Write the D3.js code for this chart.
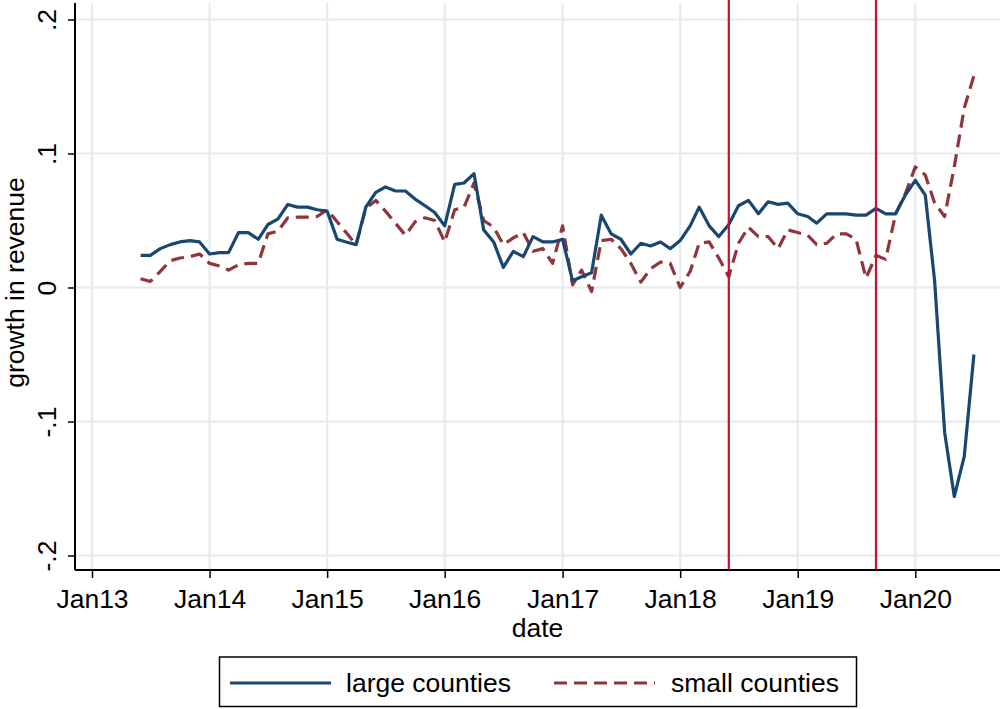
<!DOCTYPE html>
<html>
<head>
<meta charset="utf-8">
<script src="https://cdn.jsdelivr.net/npm/d3@7"></script>
<style>
  html, body { margin: 0; padding: 0; background: #fff; }
  svg { display: block; }
  text { font-family: "Liberation Sans", Arial, sans-serif; fill: #000; }
</style>
</head>
<body>
<svg id="chart" width="1002" height="709"></svg>
<script>
// Monthly observations, June 2013 – July 2020
const months = [
  "2013-06","2013-07","2013-08","2013-09","2013-10","2013-11","2013-12",
  "2014-01","2014-02","2014-03","2014-04","2014-05","2014-06","2014-07","2014-08","2014-09","2014-10","2014-11","2014-12",
  "2015-01","2015-02","2015-03","2015-04","2015-05","2015-06","2015-07","2015-08","2015-09","2015-10","2015-11","2015-12",
  "2016-01","2016-02","2016-03","2016-04","2016-05","2016-06","2016-07","2016-08","2016-09","2016-10","2016-11","2016-12",
  "2017-01","2017-02","2017-03","2017-04","2017-05","2017-06","2017-07","2017-08","2017-09","2017-10","2017-11","2017-12",
  "2018-01","2018-02","2018-03","2018-04","2018-05","2018-06","2018-07","2018-08","2018-09","2018-10","2018-11","2018-12",
  "2019-01","2019-02","2019-03","2019-04","2019-05","2019-06","2019-07","2019-08","2019-09","2019-10","2019-11","2019-12",
  "2020-01","2020-02","2020-03","2020-04","2020-05","2020-06","2020-07"
];

// Growth in revenue, large counties
const largeCounties = [
  0.024, 0.024, 0.029, 0.032, 0.034, 0.035, 0.034,
  0.025, 0.026, 0.026, 0.041, 0.041, 0.036, 0.047, 0.051, 0.062, 0.060, 0.060, 0.058,
  0.057, 0.036, 0.034, 0.032, 0.060, 0.071, 0.075, 0.072, 0.072, 0.066, 0.061, 0.056,
  0.046, 0.077, 0.078, 0.085, 0.043, 0.034, 0.015, 0.027, 0.023, 0.038, 0.034, 0.034,
  0.036, 0.005, 0.008, 0.011, 0.054, 0.040, 0.036, 0.025, 0.033, 0.031, 0.034, 0.029,
  0.035, 0.046, 0.060, 0.046, 0.038, 0.047, 0.061, 0.065, 0.055, 0.064, 0.062, 0.063,
  0.055, 0.053, 0.048, 0.055, 0.055, 0.055, 0.054, 0.054, 0.059, 0.055, 0.055, 0.069,
  0.080, 0.069, 0.005, -0.108, -0.156, -0.126, -0.050
];

// Growth in revenue, small counties
const smallCounties = [
  0.0065, 0.0045, 0.012, 0.020, 0.022, 0.023, 0.025,
  0.018, 0.016, 0.013, 0.017, 0.018, 0.018, 0.040, 0.042, 0.052, 0.0525, 0.0525, 0.053,
  0.058, 0.049, 0.041, 0.032, 0.059, 0.065, 0.057, 0.048, 0.039, 0.049, 0.052, 0.050,
  0.034, 0.058, 0.060, 0.078, 0.050, 0.045, 0.032, 0.037, 0.041, 0.027, 0.029, 0.018,
  0.046, 0.002, 0.013, -0.003, 0.035, 0.036, 0.029, 0.018, 0.004, 0.014, 0.019, 0.018,
  0.000, 0.012, 0.033, 0.034, 0.022, 0.008, 0.033, 0.045, 0.038, 0.038, 0.029, 0.043,
  0.041, 0.039, 0.032, 0.033, 0.040, 0.040, 0.036, 0.007, 0.024, 0.021, 0.055, 0.070,
  0.090, 0.084, 0.063, 0.053, 0.090, 0.134, 0.158
];

// Reference dates marked with vertical lines
const eventMonths = ["2018-06", "2019-09"];

// Axis ticks
const xTickYears = ["2013-01","2014-01","2015-01","2016-01","2017-01","2018-01","2019-01","2020-01"];
const xTickLabels = ["Jan13","Jan14","Jan15","Jan16","Jan17","Jan18","Jan19","Jan20"];
const yTicks = [-0.2, -0.1, 0, 0.1, 0.2];
const yTickLabels = ["-.2", "-.1", "0", ".1", ".2"];

const seriesNames = ["large counties", "small counties"];

const parse = d3.timeParse("%Y-%m");
const dates = months.map(parse);

const svg = d3.select("#chart");

const plot = { left: 75, right: 1000, top: 3, bottom: 570 };
const fontSize = 26.5;

const x = d3.scaleTime()
  .domain([parse("2013-01"), parse("2020-01")])
  .range([92, 915.3]);
const y = d3.scaleLinear()
  .domain([-0.2, 0.2])
  .range([555.5, 19.5]);

const gridColor = "#e4ecef";
const blue = "#1a476f";
const red = "#90353b";
const eventColor = "#c8102e";

// Grid
const grid = svg.append("g");
grid.selectAll("line.hy").data(yTicks).join("line")
  .attr("x1", plot.left).attr("x2", plot.right)
  .attr("y1", d => y(d)).attr("y2", d => y(d))
  .attr("stroke", gridColor).attr("stroke-width", 2.2);
grid.selectAll("line.vx").data(xTickYears.map(parse)).join("line")
  .attr("x1", d => x(d)).attr("x2", d => x(d))
  .attr("y1", plot.top).attr("y2", plot.bottom)
  .attr("stroke", gridColor).attr("stroke-width", 2.2);

// Series
const line = d3.line()
  .x((d, i) => x(dates[i]))
  .y(d => y(d));

svg.append("path")
  .datum(smallCounties)
  .attr("d", line)
  .attr("fill", "none")
  .attr("stroke", red)
  .attr("stroke-width", 3.2)
  .attr("stroke-dasharray", "13,7")
  .attr("stroke-linejoin", "round");

svg.append("path")
  .datum(largeCounties)
  .attr("d", line)
  .attr("fill", "none")
  .attr("stroke", blue)
  .attr("stroke-width", 3.2)
  .attr("stroke-linejoin", "round");

// Event lines
svg.selectAll("line.event").data(eventMonths.map(parse)).join("line")
  .attr("x1", d => x(d)).attr("x2", d => x(d))
  .attr("y1", 0).attr("y2", plot.bottom)
  .attr("stroke", eventColor).attr("stroke-width", 2.2);

// Y axis
const yAxis = d3.axisLeft(y)
  .tickValues(yTicks)
  .tickSize(7)
  .tickFormat((d, i) => yTickLabels[i]);
const gy = svg.append("g")
  .attr("transform", `translate(${plot.left},0)`)
  .call(yAxis);
gy.select(".domain").attr("d", `M0,${plot.top}V${plot.bottom}`).attr("stroke", "#000").attr("stroke-width", 2);
gy.selectAll(".tick line").attr("stroke", "#000").attr("stroke-width", 1.5);
gy.selectAll(".tick text")
  .attr("font-size", fontSize)
  .attr("text-anchor", "middle")
  .attr("x", 0).attr("y", 0).attr("dy", 0)
  .attr("transform", "translate(-19,0) rotate(-90)");

// X axis
const xAxis = d3.axisBottom(x)
  .tickValues(xTickYears.map(parse))
  .tickSize(8)
  .tickFormat((d, i) => xTickLabels[i]);
const gx = svg.append("g")
  .attr("transform", `translate(0,${plot.bottom})`)
  .call(xAxis);
gx.select(".domain").attr("d", `M${plot.left},0H${plot.right}`).attr("stroke", "#000").attr("stroke-width", 2);
gx.selectAll(".tick line").attr("stroke", "#000").attr("stroke-width", 1.5);
gx.selectAll(".tick text")
  .attr("font-size", fontSize)
  .attr("y", 37.5).attr("dy", 0);

// Axis titles
svg.append("text")
  .attr("transform", `translate(24,${(plot.top + plot.bottom) / 2 - 4}) rotate(-90)`)
  .attr("text-anchor", "middle")
  .attr("font-size", fontSize)
  .text("growth in revenue");

svg.append("text")
  .attr("x", (plot.left + plot.right) / 2)
  .attr("y", 637)
  .attr("text-anchor", "middle")
  .attr("font-size", fontSize)
  .text("date");

// Legend
const legend = svg.append("g");
legend.append("rect")
  .attr("x", 219.5).attr("y", 657)
  .attr("width", 637).attr("height", 49.5)
  .attr("fill", "#fff").attr("stroke", "#000").attr("stroke-width", 1.5);

const legendItems = [
  { name: seriesNames[0], color: blue, dash: null, x0: 230, x1: 331, tx: 346 },
  { name: seriesNames[1], color: red, dash: "13,7", x0: 554, x1: 655, tx: 671 }
];
legendItems.forEach(it => {
  legend.append("line")
    .attr("x1", it.x0).attr("x2", it.x1)
    .attr("y1", 683).attr("y2", 683)
    .attr("stroke", it.color).attr("stroke-width", 3.2)
    .attr("stroke-dasharray", it.dash);
  legend.append("text")
    .attr("x", it.tx).attr("y", 692)
    .attr("font-size", fontSize)
    .text(it.name);
});
</script>
</body>
</html>
